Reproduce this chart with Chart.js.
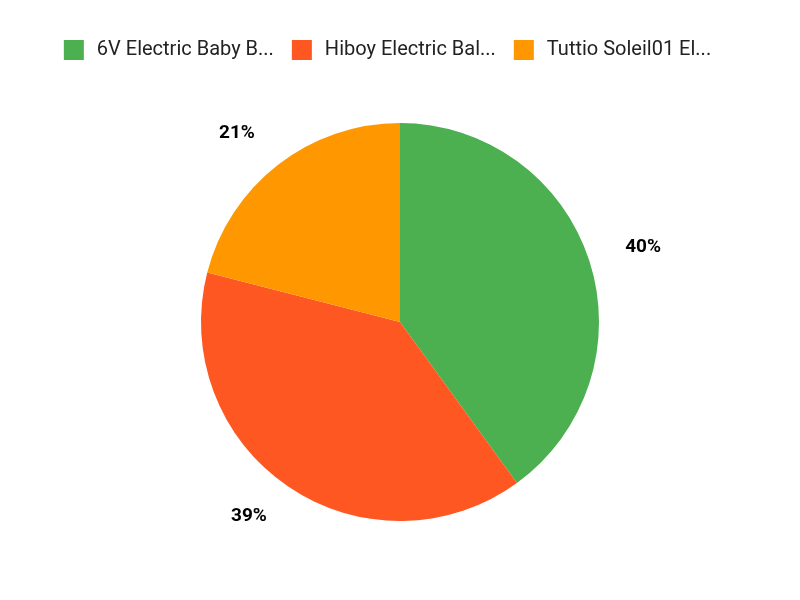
<!DOCTYPE html>
<html>
<head>
<meta charset="utf-8">
<script src="https://cdn.jsdelivr.net/npm/chart.js@4"></script>
<style>
  html, body { margin: 0; padding: 0; background: #fff; }
  #wrap { width: 800px; height: 600px; }
</style>
</head>
<body>
<div id="wrap"><canvas id="pie"></canvas></div>
<script>
const labels = ["6V Electric Baby B...", "Hiboy Electric Bal...", "Tuttio Soleil01 El..."];
const values = [40, 39, 21];
const colors = ["#4CAF50", "#FF5722", "#FF9800"];

// percent labels outside the slices, anchored away from the pie
const outsideLabels = {
  id: "outsideLabels",
  afterDatasetsDraw(chart) {
    const ctx = chart.ctx;
    const meta = chart.getDatasetMeta(0);
    const total = values.reduce((a, b) => a + b, 0);
    ctx.save();
    ctx.font = "bold 19px Roboto";
    ctx.fillStyle = "#000";
    ctx.textBaseline = "middle";
    meta.data.forEach((arc, i) => {
      const mid = (arc.startAngle + arc.endAngle) / 2;
      const r = arc.outerRadius * 1.19;
      const x = arc.x + Math.cos(mid) * r;
      const y = arc.y + Math.sin(mid) * r - 2;
      ctx.textAlign = Math.cos(mid) >= 0 ? "left" : "right";
      ctx.fillText(Math.round(values[i] / total * 100) + "%", x, y);
    });
    ctx.restore();
  }
};

// extra room between legend and pie, and nudge the legend row left
const legendGap = {
  id: "legendGap",
  beforeInit(chart) {
    const fit = chart.legend.fit;
    chart.legend.fit = function () {
      fit.bind(chart.legend)();
      this.height += 50;
    };
  },
  afterLayout(chart) {
    chart.legend.left -= 14;
    chart.legend.right -= 14;
  }
};

const baseLabels = Chart.overrides.pie.plugins.legend.labels.generateLabels;

new Chart(document.getElementById("pie"), {
  type: "pie",
  data: {
    labels: labels,
    datasets: [{
      data: values,
      backgroundColor: colors,
      borderWidth: 0
    }]
  },
  options: {
    responsive: true,
    maintainAspectRatio: false,
    animation: false,
    layout: { padding: { top: 22, bottom: 79 } },
    plugins: {
      legend: {
        position: "top",
        labels: {
          boxWidth: 26,
          boxHeight: 26,
          padding: 15,
          color: "#222",
          font: { family: "Roboto", size: 20 },
          // white outline trims the box so the gap to the text is wider
          generateLabels(chart) {
            return baseLabels(chart).map(item => ({ ...item, strokeStyle: "#fff", lineWidth: 6 }));
          }
        }
      },
      tooltip: { enabled: false }
    }
  },
  plugins: [outsideLabels, legendGap]
});
</script>
</body>
</html>
